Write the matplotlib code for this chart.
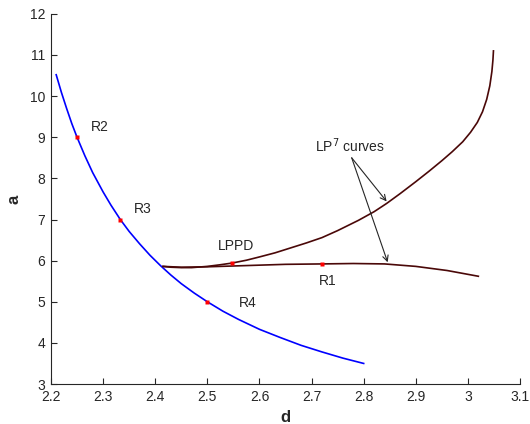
import matplotlib
matplotlib.use("Agg")
import matplotlib.pyplot as plt

plt.rcParams['font.family'] = ['Liberation Sans', 'DejaVu Sans']

# Blue curve
blue_d = [2.21, 2.22, 2.23, 2.24, 2.25, 2.265, 2.28, 2.30, 2.315, 2.333, 2.35, 2.37, 2.39, 2.41,
          2.43, 2.45, 2.475, 2.50, 2.53, 2.56, 2.60, 2.64, 2.68, 2.72, 2.76, 2.80]
blue_a = [10.52, 10.09, 9.70, 9.33, 9.00, 8.55, 8.14, 7.67, 7.35, 7.00, 6.71, 6.41, 6.13, 5.88,
          5.65, 5.44, 5.21, 5.00, 4.77, 4.57, 4.33, 4.13, 3.94, 3.78, 3.63, 3.50]

# Upper LP curve
up_d = [2.415, 2.43, 2.45, 2.47, 2.50, 2.525, 2.547, 2.575, 2.60, 2.63, 2.66, 2.69, 2.72, 2.75,
        2.79, 2.82, 2.844, 2.87, 2.90, 2.925, 2.95, 2.97, 2.99, 3.005, 3.018, 3.028, 3.036,
        3.042, 3.046, 3.048, 3.049]
up_a = [5.86, 5.84, 5.83, 5.83, 5.86, 5.90, 5.94, 6.01, 6.09, 6.19, 6.31, 6.43, 6.56, 6.73,
        6.98, 7.19, 7.39, 7.63, 7.92, 8.17, 8.43, 8.65, 8.89, 9.12, 9.36, 9.62, 9.92,
        10.25, 10.60, 10.88, 11.10]

# Lower LP curve
lo_d = [2.415, 2.45, 2.50, 2.55, 2.60, 2.65, 2.72, 2.78, 2.84, 2.90, 2.96, 3.02]
lo_a = [5.86, 5.84, 5.85, 5.87, 5.89, 5.91, 5.92, 5.93, 5.92, 5.86, 5.76, 5.62]

# Special points
pt_d = [2.25, 2.333, 2.50, 2.547, 2.72]
pt_a = [9.00, 7.00, 5.00, 5.94, 5.92]

labels = ["R2", "R3", "R4", "LPPD", "R1"]
label_d = [2.277, 2.36, 2.56, 2.52, 2.714]
label_a = [9.24, 7.26, 4.96, 6.36, 5.51]

fig = plt.figure(figsize=(5.3, 4.24), dpi=100)
ax = fig.add_axes([0.0962, 0.0943, 0.885, 0.873])

ax.plot(blue_d, blue_a, color='#0000ff', lw=1.2)
ax.plot(up_d, up_a, color='#4a0808', lw=1.2)
ax.plot(lo_d, lo_a, color='#4a0808', lw=1.2)
ax.plot(pt_d, pt_a, 's', color='red', ms=2.4, mec='none')

for t, x, y in zip(labels, label_d, label_a):
    ax.text(x, y, t, fontsize=10, color='#262626', ha='left', va='center')

ax.text(2.707, 8.80, r"LP$^7$ curves", fontsize=10, color='#262626', ha='left', va='center')
for tip in [(2.844, 7.44), (2.846, 5.96)]:
    ax.annotate("", xy=tip, xytext=(2.777, 8.50),
                arrowprops=dict(arrowstyle='->', color='#262626', lw=0.8, shrinkA=0, shrinkB=0))

ax.set_xlim(2.2, 3.1)
ax.set_ylim(3, 12)
ax.set_xticks([2.2, 2.3, 2.4, 2.5, 2.6, 2.7, 2.8, 2.9, 3.0, 3.1])
ax.set_xticklabels(["2.2", "2.3", "2.4", "2.5", "2.6", "2.7", "2.8", "2.9", "3", "3.1"])
ax.set_yticks(range(3, 13))
ax.tick_params(direction='in', length=4, width=0.8, labelsize=10, colors='#262626')
ax.tick_params(axis='x', pad=4.5)
ax.tick_params(axis='y', pad=4)
for s in ['top', 'right']:
    ax.spines[s].set_visible(False)
for s in ['left', 'bottom']:
    ax.spines[s].set_color('#262626')
    ax.spines[s].set_linewidth(0.8)

ax.set_xlabel("d", fontsize=12, fontweight='bold', color='#262626', labelpad=4)
ax.set_ylabel("a", fontsize=12, fontweight='bold', color='#262626', labelpad=6)

fig.savefig("out.png", dpi=100)
